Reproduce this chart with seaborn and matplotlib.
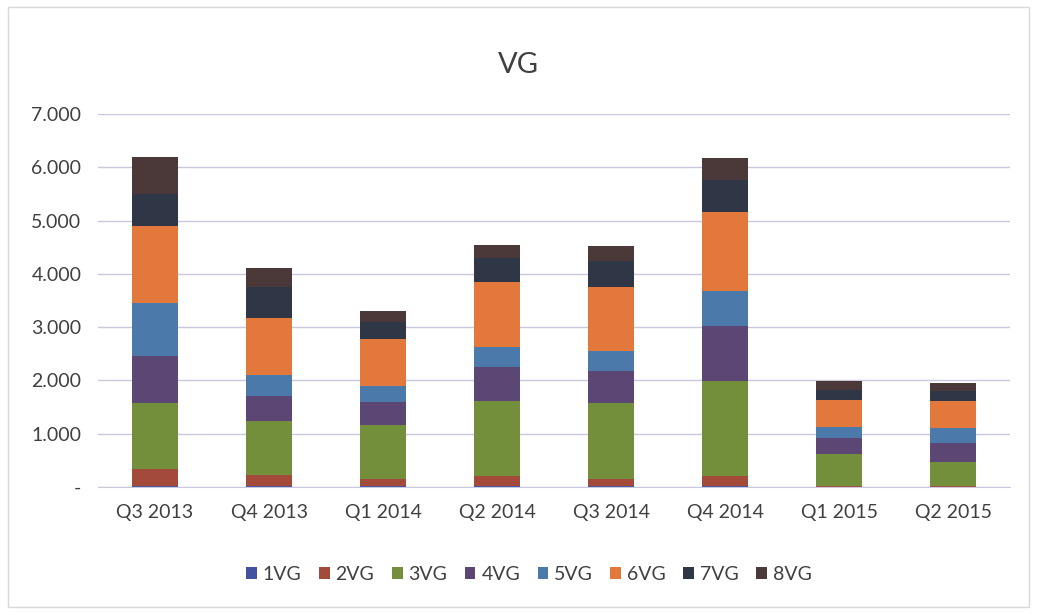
import numpy as np
import pandas as pd
import matplotlib
matplotlib.use("Agg")
import matplotlib.pyplot as plt
from matplotlib.ticker import FuncFormatter
from matplotlib.patches import Rectangle
import seaborn as sns

# data
quarters = ["Q3 2013", "Q4 2013", "Q1 2014", "Q2 2014",
            "Q3 2014", "Q4 2014", "Q1 2015", "Q2 2015"]
series = ["1VG", "2VG", "3VG", "4VG", "5VG", "6VG", "7VG", "8VG"]
vg1 = [10, 10, 10, 12, 10, 12, 5, 0]
vg2 = [320, 215, 134, 200, 140, 200, 15, 10]
vg3 = [1240, 1013, 1019, 1401, 1420, 1782, 600, 460]
vg4 = [890, 469, 437, 644, 606, 1032, 295, 355]
vg5 = [1000, 394, 295, 375, 381, 651, 215, 280]
vg6 = [1440, 1064, 876, 1220, 1201, 1477, 510, 505]
vg7 = [610, 593, 330, 438, 488, 619, 180, 185]
vg8 = [680, 345, 207, 250, 281, 413, 175, 165]

colors = ["#4252A0", "#A34A3B", "#738F3C", "#5C4673",
          "#4B79A9", "#E2783C", "#2F3646", "#4B3838"]

df = pd.DataFrame({"Quarter": quarters, "1VG": vg1, "2VG": vg2, "3VG": vg3,
                   "4VG": vg4, "5VG": vg5, "6VG": vg6, "7VG": vg7, "8VG": vg8})

sns.set_style("white")
plt.rcParams["font.family"] = ["Lato", "DejaVu Sans"]

fig = plt.figure(figsize=(10.37, 6.14), dpi=100)
ax = fig.add_axes([0.0945, 0.207, 0.8795, 0.607])

bottom = np.zeros(len(quarters))
for s, c in zip(series, colors):
    sns.barplot(data=df, x="Quarter", y=s, color=c, bottom=bottom,
                width=0.4, label=s, ax=ax, saturation=1, linewidth=0)
    bottom = bottom + df[s].values

handles, labels = ax.get_legend_handles_labels()
if ax.get_legend() is not None:
    ax.get_legend().remove()

ax.set_ylim(0, 7000)
ax.set_yticks(range(0, 7001, 1000))
ax.yaxis.set_major_formatter(FuncFormatter(
    lambda v, p: "-" if v == 0 else f"{int(v):,}".replace(",", ".")))
ax.grid(axis="y", color="#C9C8DE", linewidth=1)
ax.set_axisbelow(True)
for sp in ["left", "right", "top"]:
    ax.spines[sp].set_visible(False)
ax.spines["bottom"].set_color("#C9C8DE")
ax.tick_params(axis="both", length=0, labelsize=14, colors="#404040", pad=12)
ax.set_xlabel("")
ax.set_ylabel("")

fig.suptitle("VG", y=0.915, fontsize=21, color="#404040")

fig.legend(handles, labels, loc="center", bbox_to_anchor=(0.51, 0.064),
           ncol=8, frameon=False, fontsize=14, handlelength=0.55,
           handleheight=0.55, handletextpad=0.3, columnspacing=0.9,
           labelcolor="#404040")

fig.patches.append(Rectangle((0.008, 0.012), 0.984, 0.976, transform=fig.transFigure,
                             fill=False, edgecolor="#D8D8D8", linewidth=1))

fig.savefig("out.png", dpi=100)
